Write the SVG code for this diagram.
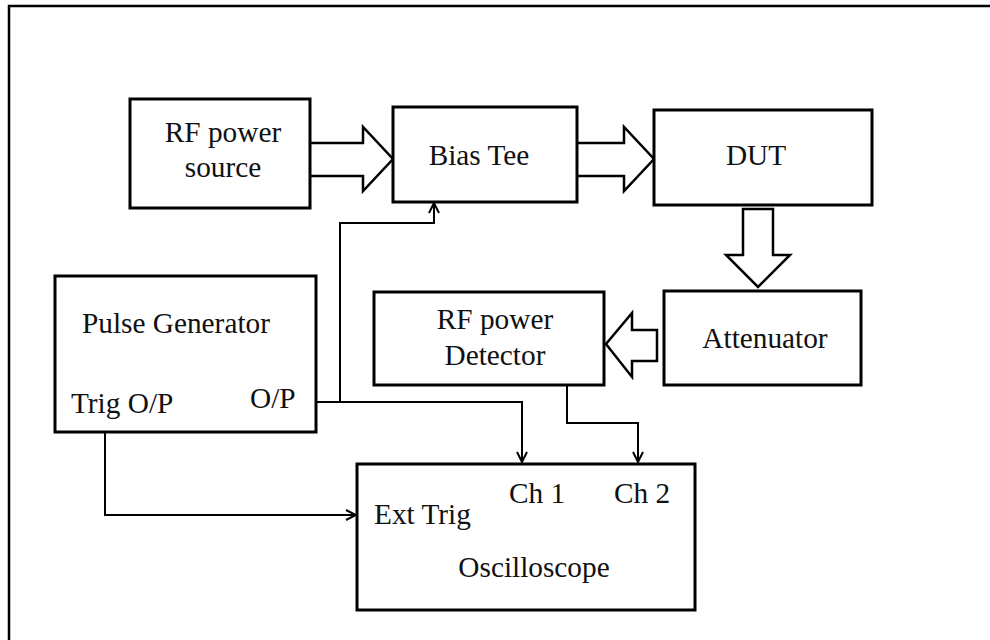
<svg xmlns="http://www.w3.org/2000/svg" width="990" height="640" viewBox="0 0 990 640">
<style>
.box{fill:#fff;stroke:#000;stroke-width:3}
.hol{fill:#fff;stroke:#000;stroke-width:2.5;stroke-linejoin:miter}
.wire{fill:none;stroke:#000;stroke-width:2}
text{font-family:"Liberation Serif","Times New Roman",serif;font-size:29.3px;fill:#111}
.c{text-anchor:middle}
</style>
<defs>
<marker id="ah" viewBox="0 0 12 12" refX="11" refY="6" markerWidth="12" markerHeight="12" markerUnits="userSpaceOnUse" orient="auto">
<path d="M1,1 L11,6 L1,11" fill="none" stroke="#000" stroke-width="2"/>
</marker>
</defs>
<rect width="990" height="640" fill="#fff"/>
<g id="frame">
<path d="M9,640 V6 H990" fill="none" stroke="#000" stroke-width="2.5"/>
</g>
<g id="connectors">
<path class="hol" d="M310,143 H363 V127 L393,159 L363,191 V176 H310"/>
<path class="hol" d="M577,143 H624 V127 L654,159 L624,191 V176 H577"/>
<path class="hol" d="M743,209 V255 H726 L758,287 L790,255 H773 V209 Z"/>
<path class="hol" d="M657,330 H632 V313 L606,344 L632,377 V361 H657 Z"/>
<path class="wire" d="M340,402 V223 H434 V203" marker-end="url(#ah)"/>
<path class="wire" d="M316,402 H522 V462" marker-end="url(#ah)"/>
<path class="wire" d="M567,385 V423 H638 V462" marker-end="url(#ah)"/>
<path class="wire" d="M105,432 V515 H356" marker-end="url(#ah)"/>
</g>
<g id="rf-source">
<rect class="box" x="130" y="99" width="180" height="109"/>
<text class="c" x="223" y="142">RF power</text>
<text class="c" x="223" y="177">source</text>
</g>
<g id="bias-tee">
<rect class="box" x="393" y="107" width="184" height="95"/>
<text class="c" x="479" y="165">Bias Tee</text>
</g>
<g id="dut">
<rect class="box" x="654" y="110" width="218" height="95"/>
<text class="c" x="756" y="165">DUT</text>
</g>
<g id="attenuator">
<rect class="box" x="664" y="291" width="197" height="94"/>
<text class="c" x="765" y="348">Attenuator</text>
</g>
<g id="rf-detector">
<rect class="box" x="374" y="292" width="230" height="93"/>
<text class="c" x="495" y="329">RF power</text>
<text class="c" x="495" y="365">Detector</text>
</g>
<g id="pulse-generator">
<rect class="box" x="55" y="276" width="261" height="156"/>
<text x="82" y="333">Pulse Generator</text>
<text x="71" y="413">Trig O/P</text>
<text x="250" y="408">O/P</text>
</g>
<g id="oscilloscope">
<rect class="box" x="357" y="464" width="338" height="146"/>
<text class="c" x="537" y="503">Ch 1</text>
<text class="c" x="642" y="503">Ch 2</text>
<text x="374" y="524">Ext Trig</text>
<text class="c" x="534" y="577">Oscilloscope</text>
</g>
</svg>
